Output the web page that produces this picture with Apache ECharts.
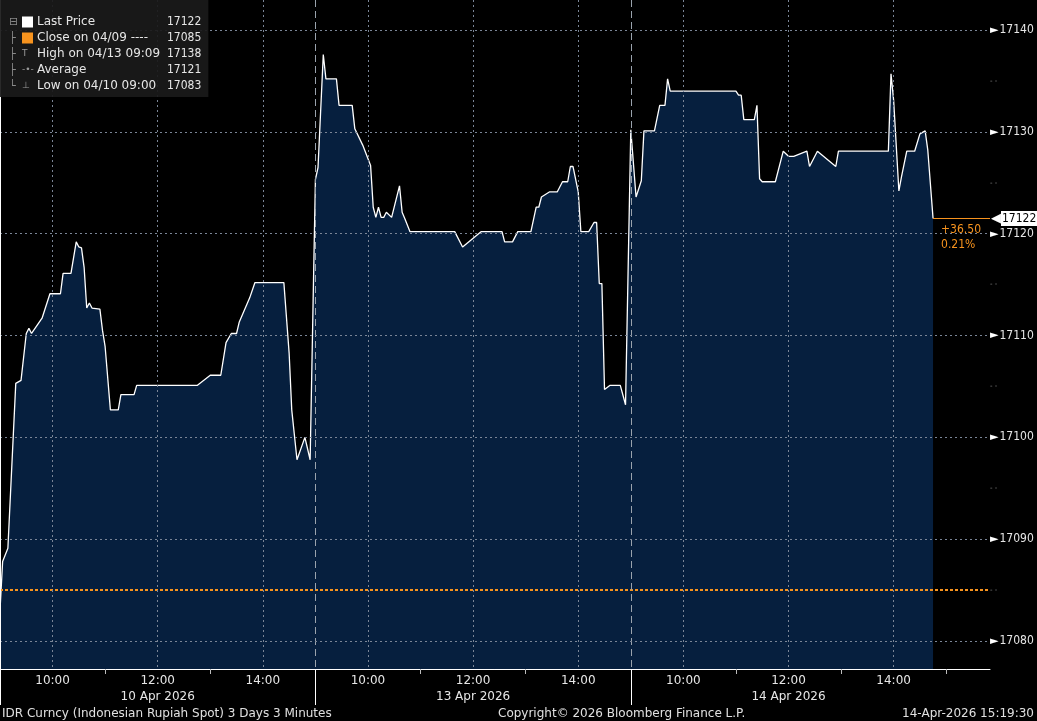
<!DOCTYPE html>
<html><head><meta charset="utf-8">
<script src="https://cdn.jsdelivr.net/npm/echarts@6/dist/echarts.min.js"></script>
<style>html,body{margin:0;padding:0;background:#000;}#c{width:1037px;height:721px;}</style>
</head><body><div id="c"></div>
<script>
// ---------- data ----------
const dayLabels = ['10 Apr 2026', '13 Apr 2026', '14 Apr 2026'];

const day1Times = ['09:00','09:03','09:09','09:18','09:24','09:30','09:33','09:36','09:48','09:57','10:09','10:12','10:21','10:27','10:30','10:33','10:36','10:39','10:42','10:45','10:54','10:57','11:00','11:06','11:15','11:18','11:33','11:36','12:45','13:00','13:12','13:18','13:24','13:30','13:33','13:45','13:51','14:24','14:30','14:33','14:39','14:48','14:54'];
const day1Prices = [17083,17087.8,17089.1,17105.3,17105.6,17110.2,17110.7,17110.2,17111.7,17114.1,17114.1,17116.1,17116.1,17119.2,17118.7,17118.6,17116.7,17112.7,17113.2,17112.7,17112.6,17110.5,17108.9,17102.7,17102.7,17104.2,17104.2,17105.1,17105.1,17106.1,17106.1,17109.3,17110.2,17110.2,17111.3,17113.7,17115.2,17115.2,17108.3,17102.7,17097.8,17100.0,17097.8];

const day2Times = ['09:00','09:03','09:09','09:12','09:24','09:27','09:42','09:45','09:54','10:03','10:06','10:09','10:12','10:15','10:18','10:21','10:27','10:36','10:39','10:42','10:48','11:39','11:48','12:09','12:33','12:36','12:45','12:51','13:06','13:12','13:15','13:18','13:27','13:36','13:42','13:48','13:51','13:54','14:00','14:03','14:12','14:18','14:21','14:24','14:27','14:30','14:36','14:48','14:54'];
const day2Prices = [17125.3,17126.5,17137.6,17135.2,17135.2,17132.6,17132.6,17130.3,17128.7,17126.7,17122.6,17121.6,17122.6,17121.6,17121.6,17122.1,17121.6,17124.7,17122.1,17121.5,17120.2,17120.2,17118.7,17120.2,17120.2,17119.2,17119.2,17120.2,17120.2,17122.6,17122.6,17123.6,17124.1,17124.1,17125.1,17125.1,17126.6,17126.6,17124.1,17120.2,17120.2,17121.1,17121.1,17115.1,17115.1,17104.7,17105.1,17105.1,17103.2];

const day3Times = ['09:00','09:06','09:12','09:15','09:27','09:33','09:39','09:42','09:45','11:00','11:03','11:06','11:09','11:21','11:24','11:27','11:30','11:45','11:54','12:00','12:06','12:21','12:24','12:33','12:54','12:57','13:54','13:57','14:00','14:06','14:09','14:15','14:24','14:30','14:36','14:39','14:45'];
const day3Prices = [17130.2,17123.6,17125.2,17130.1,17130.1,17132.6,17132.6,17135.2,17134.0,17134.0,17133.6,17133.6,17131.2,17131.2,17132.6,17125.4,17125.1,17125.1,17128.1,17127.6,17127.6,17128.1,17126.6,17128.1,17126.6,17128.1,17128.1,17135.7,17133.1,17124.2,17125.6,17128.1,17128.1,17129.8,17130.1,17128.2,17121.5];

const yTickValues = [17080, 17090, 17100, 17110, 17120, 17130, 17140];
const yMinorValues = [17085, 17095, 17105, 17115, 17125, 17135];
const prevClose = 17085;
const lastPrice = 17121.5;

const legendNames  = ['Last Price', 'Close on 04/09 ----', 'High on 04/13 09:09', 'Average', 'Low on 04/10 09:00'];
const legendValues = ['17122', '17085', '17138', '17121', '17083'];

const footerLeft = 'IDR Curncy (Indonesian Rupiah Spot) 3 Days 3 Minutes';
const footerMid = 'Copyright\u00A9 2026 Bloomberg Finance L.P.';
const footerRight = '14-Apr-2026 15:19:30';

// ---------- helpers ----------
const SESSION_START = 9 * 60;
const DAY_SPAN = 360;
const X_MAX = 1130;
function toX(day, hhmm) {
  const p = hhmm.split(':').map(Number);
  return day * DAY_SPAN + p[0] * 60 + p[1] - SESSION_START;
}
const days = [[day1Times, day1Prices], [day2Times, day2Prices], [day3Times, day3Prices]];
const seriesData = [];
days.forEach((d, i) => d[0].forEach((t, k) => seriesData.push([toX(i, t), d[1][k]])));
const lastX = seriesData[seriesData.length - 1][0];

const evenHours = [], oddHours = [];
for (let d = 0; d < 3; d++) {
  for (let h = 10; h <= 15; h++) {
    const v = d * DAY_SPAN + (h - 9) * 60;
    if (v > X_MAX) continue;
    if (h % 2 === 0) evenHours.push(v); else if (h !== 15 || d === 2) oddHours.push(v);
  }
}
const dayStarts = [0, DAY_SPAN, 2 * DAY_SPAN];
const yLabelValues = yTickValues.concat(yMinorValues).sort((a, b) => a - b);

const change = lastPrice - prevClose;
const changePct = change / prevClose * 100;
const ORANGE = '#f7931e';
const FONT = 'DejaVu Sans';
const FONT_C = '"DejaVu Sans Condensed", "DejaVu Sans"';

const legendLines = legendNames.map((n, i) => {
  const tree = i === 0 ? '\u229F' : (i === legendNames.length - 1 ? '\u2514' : '\u251C');
  const icon = ['{sqW| }', '{sqO| }', '{gl|T}', '{gl|-\u2022-}', '{gl|\u22A5}'][i];
  return '{tr|' + tree + '}' + icon + '{sp| }{lab|' + n + '}{val|' + legendValues[i] + '}';
}).join('\n');

const chart = echarts.init(document.getElementById('c'), null, { renderer: 'canvas' });
chart.setOption({
  backgroundColor: '#000',
  animation: false,
  textStyle: { fontFamily: FONT },
  grid: { left: 0, right: 47, top: 0, bottom: 52, containLabel: false },
  title: [
    {
      text: legendLines, left: 0, top: 0, z: 20,
      backgroundColor: 'rgba(26,26,26,0.93)', padding: [14, 7, 3, 9],
      textStyle: {
        fontFamily: FONT, fontSize: 12, fontWeight: 'normal', color: '#e6e6e6', lineHeight: 16,
        rich: {
          tr: { color: '#8a8a8a', width: 13, fontSize: 11, fontFamily: FONT, lineHeight: 16 },
          sqW: { width: 11, height: 11, backgroundColor: '#ffffff', lineHeight: 16 },
          sqO: { width: 11, height: 11, backgroundColor: ORANGE, lineHeight: 16 },
          gl: { width: 11, color: '#9a9a9a', fontSize: 9, fontFamily: FONT, lineHeight: 16 },
          sp: { width: 4, lineHeight: 16 },
          lab: { width: 130, color: '#e6e6e6', fontSize: 12, fontFamily: FONT, lineHeight: 16 },
          val: { color: '#e6e6e6', fontSize: 12, fontFamily: FONT_C, lineHeight: 16 }
        }
      }
    },
    { text: footerLeft, left: 2, bottom: 1, padding: 0, textStyle: { fontFamily: FONT, fontSize: 12, fontWeight: 'normal', color: '#e0e0e0' } },
    { text: footerMid, left: 498, bottom: 1, padding: 0, textStyle: { fontFamily: FONT, fontSize: 12, fontWeight: 'normal', color: '#e0e0e0' } },
    { text: footerRight, right: 3, bottom: 1, padding: 0, textStyle: { fontFamily: FONT, fontSize: 12, fontWeight: 'normal', color: '#e0e0e0' } }
  ],
  xAxis: [
    {
      type: 'value', min: 0, max: X_MAX, position: 'bottom', z: 6,
      axisLine: { show: true, onZero: false, lineStyle: { color: '#ffffff', width: 1 } },
      axisTick: { show: true, customValues: oddHours, length: 5, lineStyle: { color: '#bbbbbb' } },
      axisLabel: {
        customValues: evenHours, color: '#e6e6e6', fontSize: 12, lineHeight: 16, margin: 4, fontFamily: FONT,
        formatter: v => {
          const d = Math.floor(v / DAY_SPAN);
          const h = Math.round((v - d * DAY_SPAN + SESSION_START) / 60);
          const s = (h < 10 ? '0' : '') + h + ':00';
          return h === 12 ? s + '\n' + dayLabels[d] : s;
        }
      },
      splitLine: { show: false }
    },
    {
      type: 'value', min: 0, max: X_MAX, position: 'bottom', z: 5,
      axisLine: { show: false }, axisLabel: { show: false },
      axisTick: { show: false, customValues: evenHours },
      splitLine: { show: true, lineStyle: { color: '#7a8596', type: [2, 3], width: 1 } }
    },
    {
      type: 'value', min: 0, max: X_MAX, position: 'bottom', z: 5,
      axisLine: { show: false }, axisLabel: { show: false },
      axisTick: { show: true, customValues: dayStarts, length: 36, lineStyle: { color: '#ffffff', width: 1 } },
      splitLine: { show: true, lineStyle: { color: '#9aa3ad', type: [7, 4], width: 1 } }
    }
  ],
  yAxis: [
    {
      // visible price axis on the right: line, labels (major) and small dashes (minor)
      type: 'value', position: 'right', min: 17077.25, max: 17142.95, z: 6,
      axisLine: { show: true, lineStyle: { color: '#ffffff', width: 1 } },
      axisTick: { show: false, customValues: yTickValues },
      axisLabel: {
        customValues: yLabelValues, margin: 0, fontFamily: FONT_C,
        formatter: v => yTickValues.indexOf(v) >= 0 ? '{t|\u25BA}{v|' + v + '}' : '{m|- -}',
        rich: {
          t: { color: '#ffffff', fontSize: 11, fontFamily: FONT, padding: [0, 1, 0, 0] },
          v: { color: '#e6e6e6', fontSize: 12, fontFamily: FONT_C },
          m: { color: '#8a8a8a', fontSize: 7, fontFamily: FONT }
        }
      },
      splitLine: { show: true, lineStyle: { color: '#7a8596', type: [2, 3], width: 1 } }
    }
  ],
  series: [{
    type: 'line', data: seriesData, xAxisIndex: 0, yAxisIndex: 0,
    symbol: 'none', showSymbol: false, z: 2,
    lineStyle: { color: '#ffffff', width: 1.3 },
    areaStyle: { color: '#061f3e', opacity: 1, origin: 'start' },
    markLine: {
      silent: true, symbol: 'none', animation: false, z: 4,
      data: [
        { yAxis: prevClose, lineStyle: { color: ORANGE, type: [3, 2], width: 2 }, label: { show: false } },
        [
          { coord: [lastX, lastPrice], lineStyle: { color: ORANGE, type: 'solid', width: 1 },
            label: { show: true, position: 'insideStartBottom', distance: [8, 4], color: ORANGE, fontSize: 12, lineHeight: 15, fontFamily: FONT_C,
              formatter: (change >= 0 ? '+' : '') + change.toFixed(2) + '\n' + changePct.toFixed(2) + '%' } },
          { coord: [X_MAX, lastPrice] }
        ],
        [
          { coord: [lastX, lastPrice], lineStyle: { color: ORANGE, type: 'solid', width: 1 },
            label: { show: true, position: 'end', distance: 1,
              formatter: '{a|\u25C0}{b|' + Math.round(lastPrice) + '}',
              rich: {
                a: { color: '#ffffff', fontSize: 13, fontFamily: FONT },
                b: { color: '#000000', backgroundColor: '#ffffff', fontSize: 12, padding: [2, 4, 1, 1], fontFamily: FONT_C }
              } } },
          { coord: [X_MAX, lastPrice] }
        ]
      ]
    }
  }]
});
</script></body></html>
